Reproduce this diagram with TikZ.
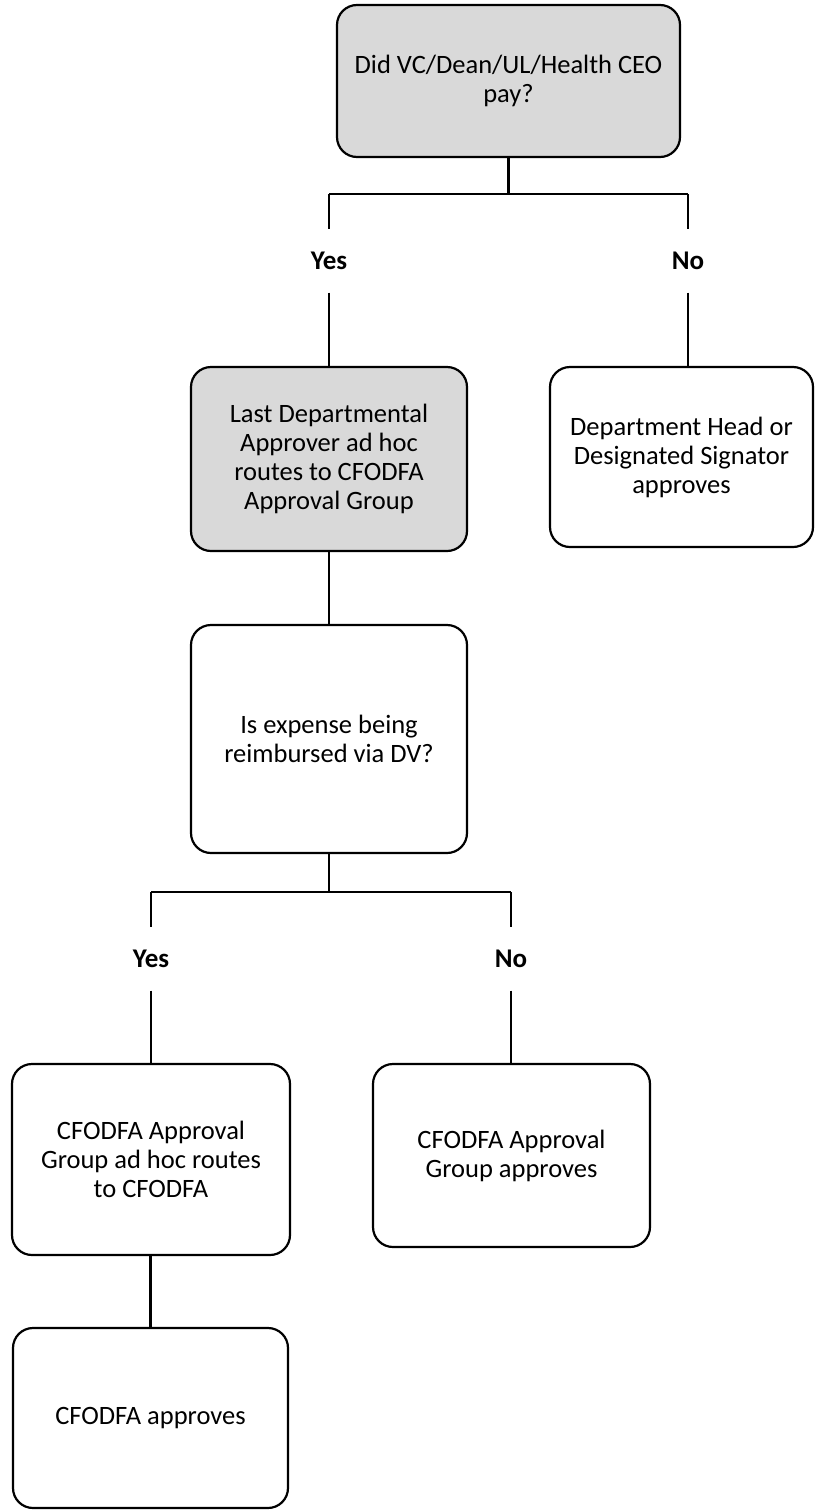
\documentclass[tikz,border=0pt]{standalone}
\usepackage{fontspec}
\setmainfont{Carlito}
\definecolor{boxgray}{HTML}{D9D9D9}
\tikzset{
  box/.style={draw=black, line width=2.2pt, rounded corners=20pt, align=center,
    inner sep=0pt, font=\fontsize{26.5}{29}\selectfont},
  graybox/.style={box, fill=boxgray},
  lbl/.style={inner sep=0pt, minimum height=63pt, font=\fontsize{27}{30}\selectfont\bfseries},
  conn/.style={line width=2.2pt}
}
\begin{document}
\begin{tikzpicture}[x=1pt,y=1pt]
\useasboundingbox (0,0) rectangle (815,-1510);
\node[graybox, minimum width=343pt, minimum height=152pt] (q1) at (508.5,-81)
  {Did VC/Dean/UL/Health CEO\\pay?};
\node[graybox, minimum width=276pt, minimum height=184pt] (b2) at (329,-459)
  {Last Departmental\\Approver ad hoc\\routes to CFODFA\\Approval Group};
\node[box, minimum width=263pt, minimum height=180pt] (b3) at (681.5,-457)
  {Department Head or\\Designated Signator\\approves};
\node[box, minimum width=276pt, minimum height=228pt] (q2) at (329,-739)
  {Is expense being\\reimbursed via DV?};
\node[box, minimum width=278pt, minimum height=191pt] (b5) at (151,-1159.5)
  {CFODFA Approval\\Group ad hoc routes\\to CFODFA};
\node[box, minimum width=277pt, minimum height=183pt] (b6) at (511.5,-1155.5)
  {CFODFA Approval\\Group approves};
\node[box, minimum width=275pt, minimum height=180pt] (b7) at (150.5,-1418)
  {CFODFA approves};
\node[lbl] (yes1) at (329,-261) {Yes};
\node[lbl] (no1) at (688,-261) {No};
\node[lbl] (yes2) at (151,-959) {Yes};
\node[lbl] (no2) at (511,-959) {No};
\coordinate (j1) at (508.5,-194);
\coordinate (j2) at (329,-892);
\draw[conn] (q1.south) -- (j1);
\draw[conn] (yes1.north |- j1) -- (no1.north |- j1);
\draw[conn] (yes1.north |- j1) -- (yes1.north);
\draw[conn] (no1.north |- j1) -- (no1.north);
\draw[conn] (yes1.south) -- (yes1.south |- b2.north);
\draw[conn] (no1.south) -- (no1.south |- b3.north);
\draw[conn] (b2.south) -- (q2.north);
\draw[conn] (q2.south) -- (j2);
\draw[conn] (yes2.north |- j2) -- (no2.north |- j2);
\draw[conn] (yes2.north |- j2) -- (yes2.north);
\draw[conn] (no2.north |- j2) -- (no2.north);
\draw[conn] (yes2.south) -- (yes2.south |- b5.north);
\draw[conn] (no2.south) -- (no2.south |- b6.north);
\draw[conn] (b5.south -| b7.north) -- (b7.north);
\end{tikzpicture}
\end{document}
